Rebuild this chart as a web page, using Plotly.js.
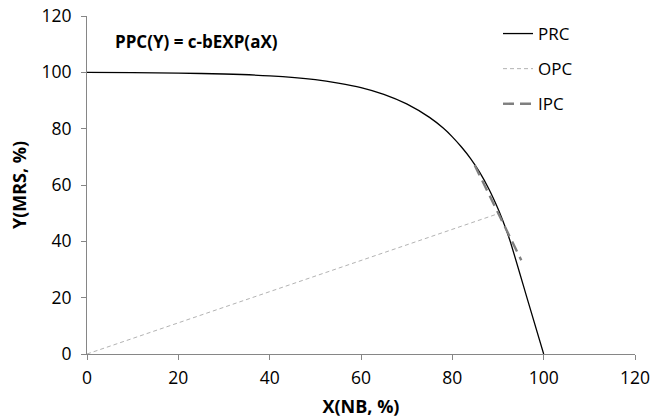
<!DOCTYPE html>
<html>
<head>
<meta charset="utf-8">
<script src="https://cdn.plot.ly/plotly-3.0.1.min.js"></script>
<style>html,body{margin:0;padding:0;background:#fff;}#chart{width:665px;height:418px;}</style>
</head>
<body>
<div id="chart"></div>
<script>
// PRC curve points
const prcX = [0, 10, 20, 30, 40, 50, 55, 60, 65, 70, 75, 78, 80, 82, 84, 86, 88, 90, 91, 92.6, 96.3, 100];
const prcY = [100, 99.9, 99.75, 99.4, 98.75, 97.4, 96.2, 94.6, 92.2, 88.8, 84.0, 80.2, 77.1, 73.5, 69.4, 64.5, 58.6, 51.6, 47.6, 40.4, 20.2, 0];
// OPC: origin to PRC point
const opcX = [0, 90];
const opcY = [0, 49.8];
// IPC: tangent at that point
const ipcX = [84.9, 95.1];
const ipcY = [67.0, 33.3];
const xTicks = [0, 20, 40, 60, 80, 100, 120];
const yTicks = [0, 20, 40, 60, 80, 100, 120];

const font = "'Open Sans', 'Liberation Sans', sans-serif";

const traces = [
  {x: prcX, y: prcY, name: 'PRC', mode: 'lines', line: {color: '#000000', width: 1.3, shape: 'spline', smoothing: 0.5}, legendgroup: 'a'},
  {x: opcX, y: opcY, name: 'OPC', mode: 'lines', line: {color: '#b3b3b3', width: 1, dash: '4px,3px'}, legendgroup: 'b'},
  {x: ipcX, y: ipcY, name: 'IPC', mode: 'lines', line: {color: '#7f7f7f', width: 2.4, dash: '11px,6px'}, legendgroup: 'c'}
];

const axisCommon = {
  showgrid: false, zeroline: false, showline: true, linecolor: '#868686', linewidth: 1,
  ticks: 'outside', ticklen: 5, tickcolor: '#868686', tickwidth: 1,
  tickfont: {family: font, size: 17.5, color: '#000'}
};

const layout = {
  width: 665, height: 418,
  margin: {l: 87, r: 30, t: 16, b: 64},
  paper_bgcolor: '#fff', plot_bgcolor: '#fff',
  showlegend: true,
  legend: {x: 0.75, xanchor: 'left', y: 1.0, yanchor: 'top', font: {family: font, size: 17, color: '#000'},
           tracegroupgap: 10, traceorder: 'grouped', bgcolor: 'rgba(0,0,0,0)'},
  xaxis: Object.assign({}, axisCommon, {range: [0, 120], tickvals: xTicks, ticktext: xTicks.map(String),
    ticklabelstandoff: 3,
    title: {text: '<b>X(NB, %)</b>', font: {family: font, size: 18, color: '#000'}, standoff: 14}}),
  yaxis: Object.assign({}, axisCommon, {range: [0, 120], tickvals: yTicks, ticktext: yTicks.map(String),
    ticklabelstandoff: 6,
    title: {text: '<b>Y(MRS, %)</b>', font: {family: font, size: 18, color: '#000'}, standoff: 10}}),
  annotations: [{
    text: '<b>PPC(Y) = c-bEXP(aX)</b>', xref: 'paper', yref: 'paper', x: 0.048, y: 0.925,
    xanchor: 'left', yanchor: 'middle', showarrow: false, font: {family: font, size: 17, color: '#000'}
  }]
};

Plotly.newPlot('chart', traces, layout, {displayModeBar: false, staticPlot: true});
</script>
</body>
</html>
